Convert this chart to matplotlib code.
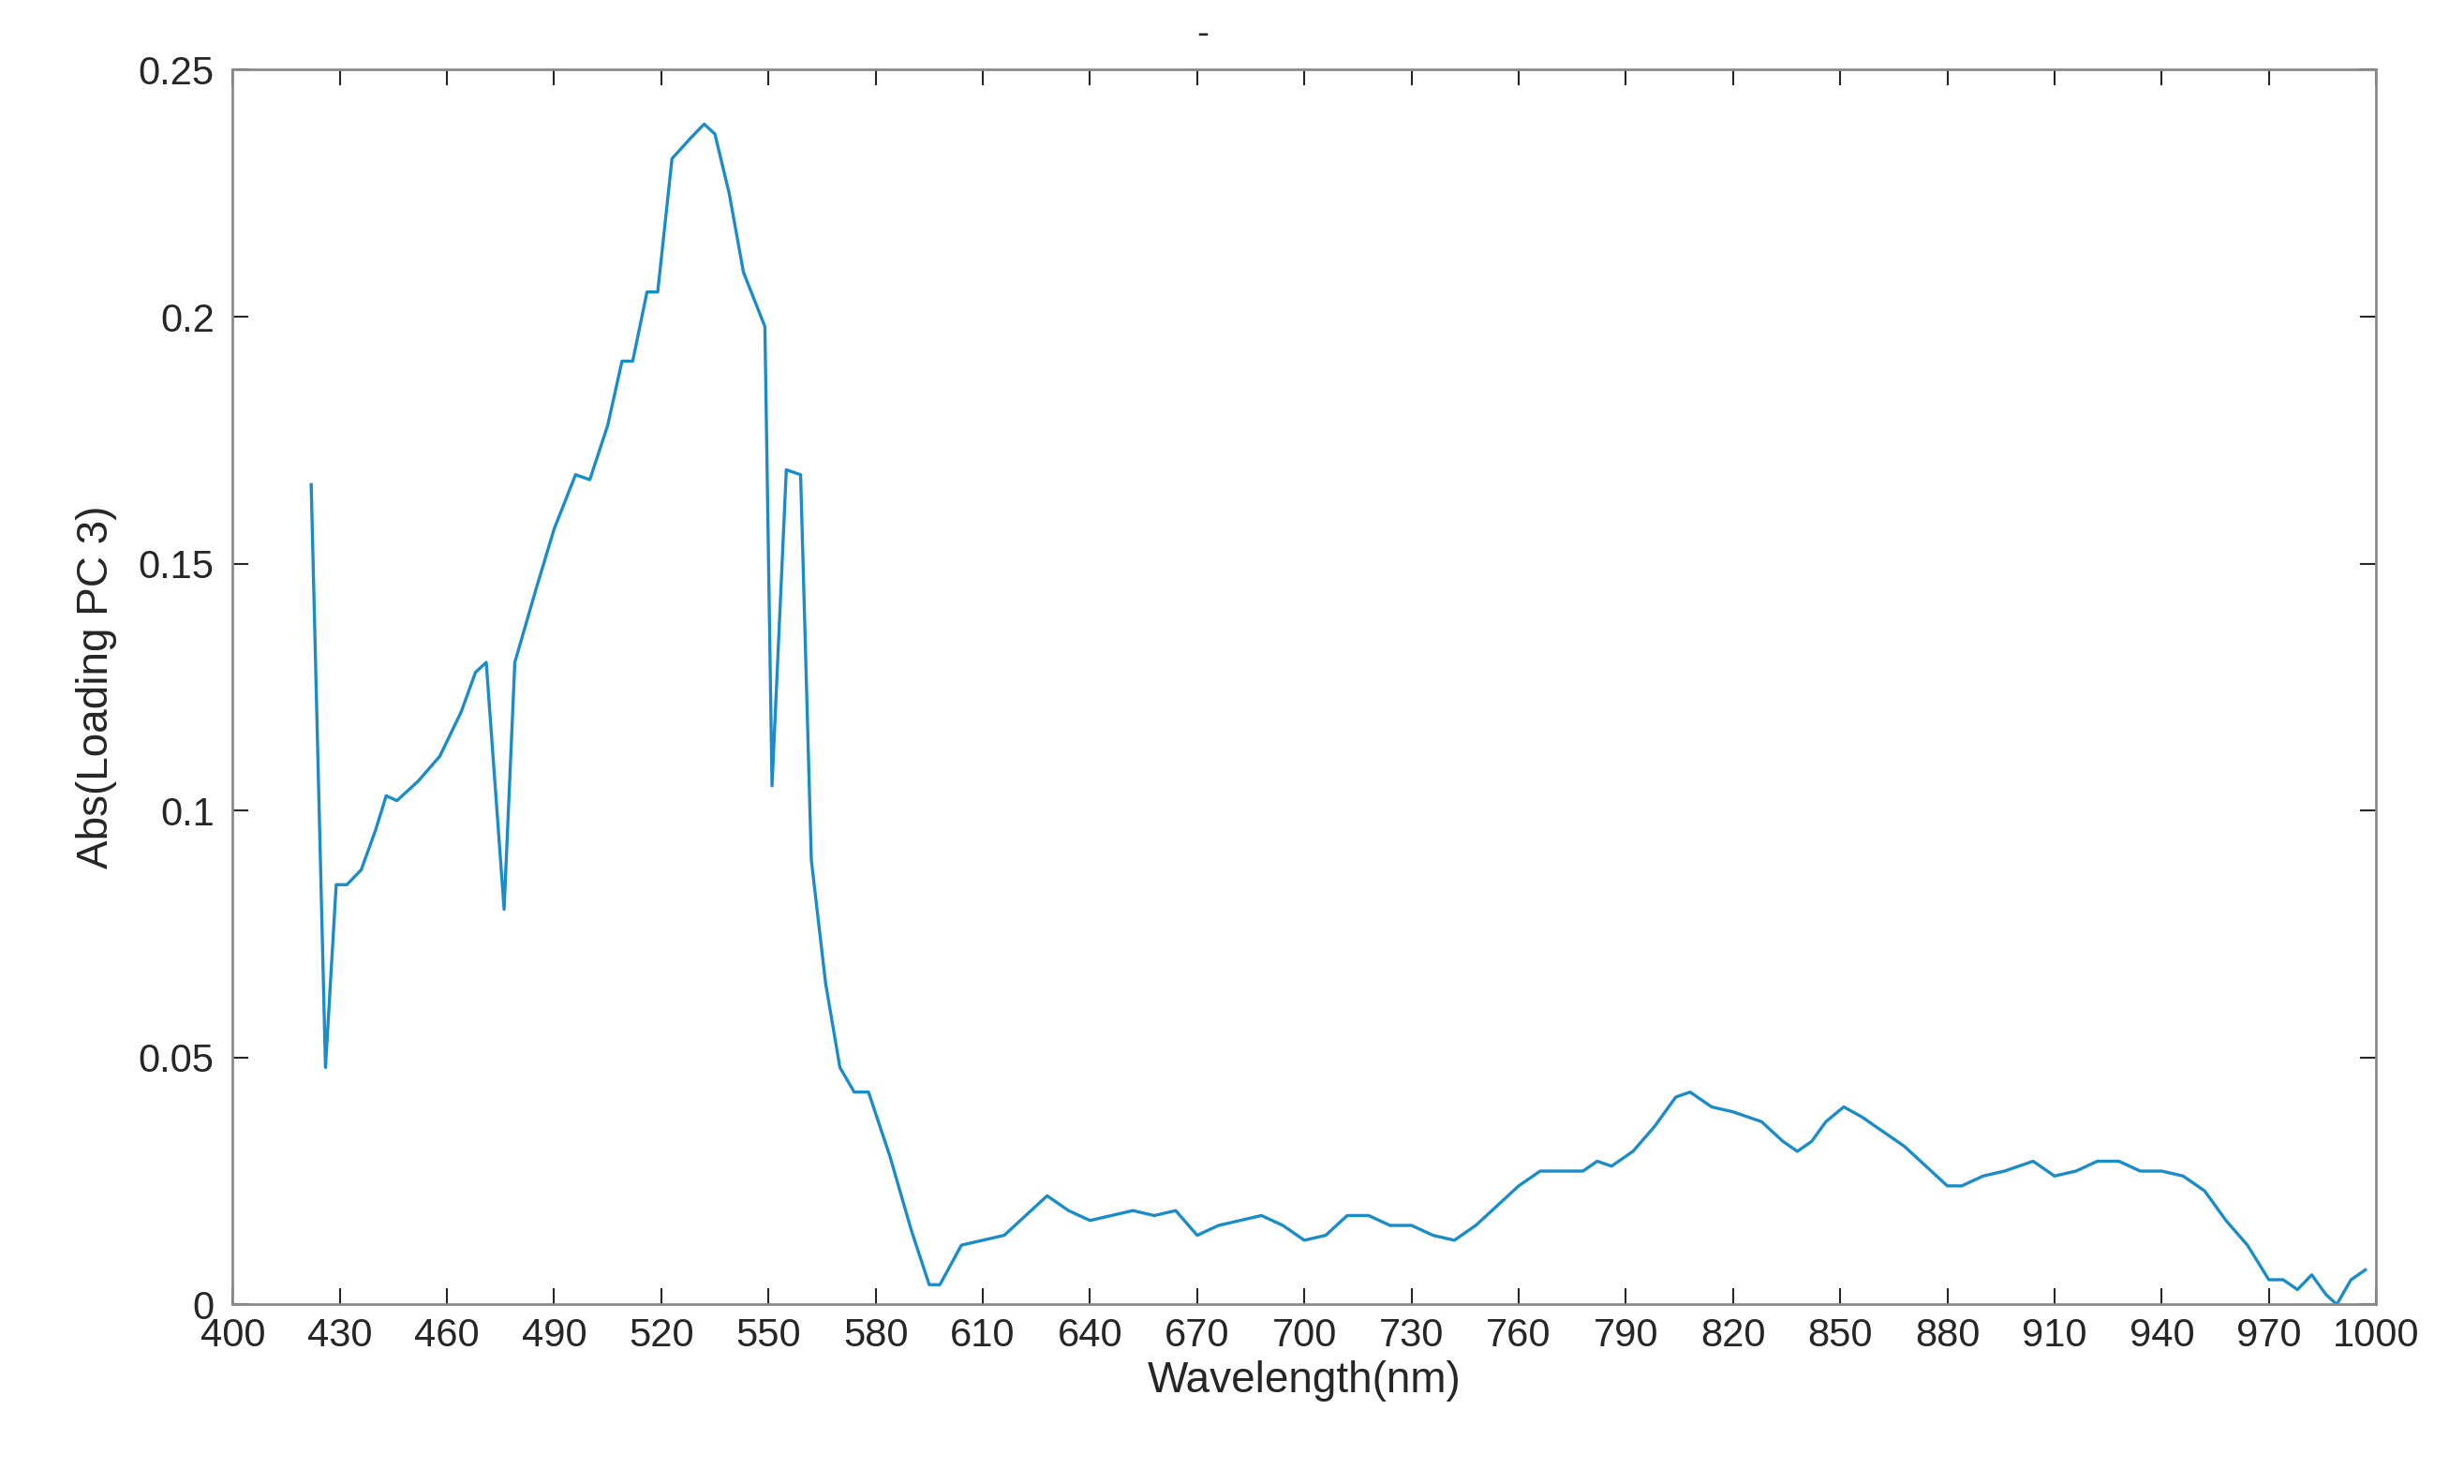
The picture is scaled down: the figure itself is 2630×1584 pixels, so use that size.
import matplotlib
matplotlib.use("Agg")
import matplotlib.pyplot as plt

plt.rcParams['font.family'] = ['Liberation Sans', 'DejaVu Sans']

wavelength = [422,426,429,432,436,440,443,446,452,458,464,468,471,476,479,485,490,496,500,505,509,512,516,519,523,528,532,535,539,543,549,551,555,559,562,566,570,574,578,584,590,595,598,604,610,616,622,628,634,640,646,652,658,664,670,676,682,688,694,700,706,712,718,724,730,736,742,748,754,760,766,772,778,782,786,792,798,804,808,814,820,828,834,838,842,846,851,856,862,868,874,880,884,890,896,904,910,916,922,928,934,940,946,952,958,964,970,974,978,982,986,989,993,997]
loading = [0.166,0.048,0.085,0.085,0.088,0.096,0.103,0.102,0.106,0.111,0.120,0.128,0.130,0.080,0.130,0.145,0.157,0.168,0.167,0.178,0.191,0.191,0.205,0.205,0.232,0.236,0.239,0.237,0.225,0.209,0.198,0.105,0.169,0.168,0.090,0.065,0.048,0.043,0.043,0.030,0.015,0.004,0.004,0.012,0.013,0.014,0.018,0.022,0.019,0.017,0.018,0.019,0.018,0.019,0.014,0.016,0.017,0.018,0.016,0.013,0.014,0.018,0.018,0.016,0.016,0.014,0.013,0.016,0.020,0.024,0.027,0.027,0.027,0.029,0.028,0.031,0.036,0.042,0.043,0.040,0.039,0.037,0.033,0.031,0.033,0.037,0.040,0.038,0.035,0.032,0.028,0.024,0.024,0.026,0.027,0.029,0.026,0.027,0.029,0.029,0.027,0.027,0.026,0.023,0.017,0.012,0.005,0.005,0.003,0.006,0.002,0.000,0.005,0.007]
xticks = list(range(400, 1001, 30))
yticks = [0, 0.05, 0.1, 0.15, 0.2, 0.25]
ytick_labels = ["0", "0.05", "0.1", "0.15", "0.2", "0.25"]

fig = plt.figure(figsize=(26.3, 15.84), dpi=100)
ax = fig.add_axes([0.0944, 0.121, 0.8699, 0.832])
ax.plot(wavelength, loading, color="#1a8cc8", linewidth=2.4)
ax.set_xlim(400, 1000)
ax.set_ylim(0, 0.25)
ax.set_xticks(xticks)
ax.set_yticks(yticks)
ax.set_yticklabels(ytick_labels)
ax.tick_params(direction="in", top=True, right=True, length=12, width=1.5,
               labelsize=30, colors="#262626", pad=10)
ax.tick_params(axis="y", pad=14)
for s in ax.spines.values():
    s.set_color("#8a8a8a")
    s.set_linewidth(2)
ax.set_xlabel("Wavelength(nm)", fontsize=33, color="#262626", labelpad=4)
ax.set_ylabel("Abs(Loading PC 3)", fontsize=33, color="#262626", labelpad=16)
fig.text(0.488, 0.965, "-", fontsize=28, color="#262626", ha="center", va="bottom")
fig.savefig("out.png", dpi=100)
